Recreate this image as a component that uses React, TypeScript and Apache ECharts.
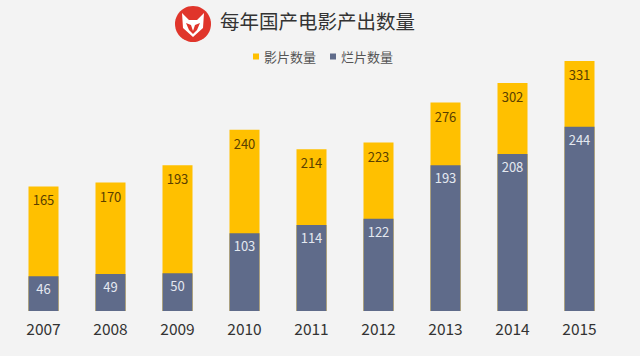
import React, { useEffect, useRef } from "react";
import * as echarts from "echarts";

const years = ["2007", "2008", "2009", "2010", "2011", "2012", "2013", "2014", "2015"];
const totalFilms = [165, 170, 193, 240, 214, 223, 276, 302, 331];
const badFilms = [46, 49, 50, 103, 114, 122, 193, 208, 244];
const titleText = "每年国产电影产出数量";
const seriesNames = ["影片数量", "烂片数量"];

export default function App() {
  const ref = useRef<HTMLDivElement>(null);
  useEffect(() => {
    if (!ref.current) return;
    const chart = echarts.init(ref.current, null, { renderer: "svg" });
    const font = "'Noto Sans CJK SC', 'Noto Sans', sans-serif";
    chart.setOption({
      animation: false,
      backgroundColor: "#f3f3f3",
      textStyle: { fontFamily: font },
      graphic: [
        { type: "circle", shape: { cx: 193, cy: 24, r: 18 }, style: { fill: "#e0352b" } },
        {
          type: "polygon",
          shape: { points: [[182, 13], [189, 20], [197, 20], [204, 13], [203, 28], [193, 37], [183, 28]] },
          style: { fill: "#ffffff" },
        },
        {
          type: "polygon",
          shape: { points: [[186, 23], [191, 25], [193, 31], [195, 25], [200, 23], [197, 30], [193, 34], [189, 30]] },
          style: { fill: "#e0352b" },
        },
        {
          type: "text",
          left: 220,
          top: 11,
          style: { text: titleText, fontSize: 19.5, fill: "#333333", fontFamily: font },
        },
      ],
      legend: {
        left: 248,
        top: 45,
        itemWidth: 6,
        itemHeight: 6,
        itemGap: 14,
        icon: "rect",
        textStyle: { fontSize: 13, color: "#555555", fontFamily: font },
        data: seriesNames,
      },
      grid: { left: 10, right: 27, top: 61, bottom: 45, containLabel: false },
      xAxis: {
        type: "category",
        data: years,
        axisLine: { show: false },
        axisTick: { show: false },
        axisLabel: { color: "#333333", fontSize: 15.5, margin: 9, fontFamily: font },
      },
      yAxis: { type: "value", min: 0, max: 331, show: false, splitLine: { show: false } },
      series: [
        {
          name: seriesNames[0],
          type: "bar",
          data: totalFilms,
          barWidth: 30,
          itemStyle: { color: "#ffc000" },
          label: {
            show: true,
            position: "insideTop",
            distance: 7,
            color: "#5a3f00",
            fontSize: 13,
            fontFamily: font,
          },
        },
        {
          name: seriesNames[1],
          type: "bar",
          data: badFilms,
          barWidth: 30,
          barGap: "-100%",
          itemStyle: { color: "#5f6b8a" },
          label: {
            show: true,
            position: "insideTop",
            distance: 6,
            color: "#e4e8f0",
            fontSize: 13,
            fontFamily: font,
          },
        },
      ],
    });
    return () => chart.dispose();
  }, []);
  return (
    <div
      ref={ref}
      style={{ position: "fixed", left: 0, top: 0, width: 640, height: 356, background: "#f3f3f3" }}
    />
  );
}
